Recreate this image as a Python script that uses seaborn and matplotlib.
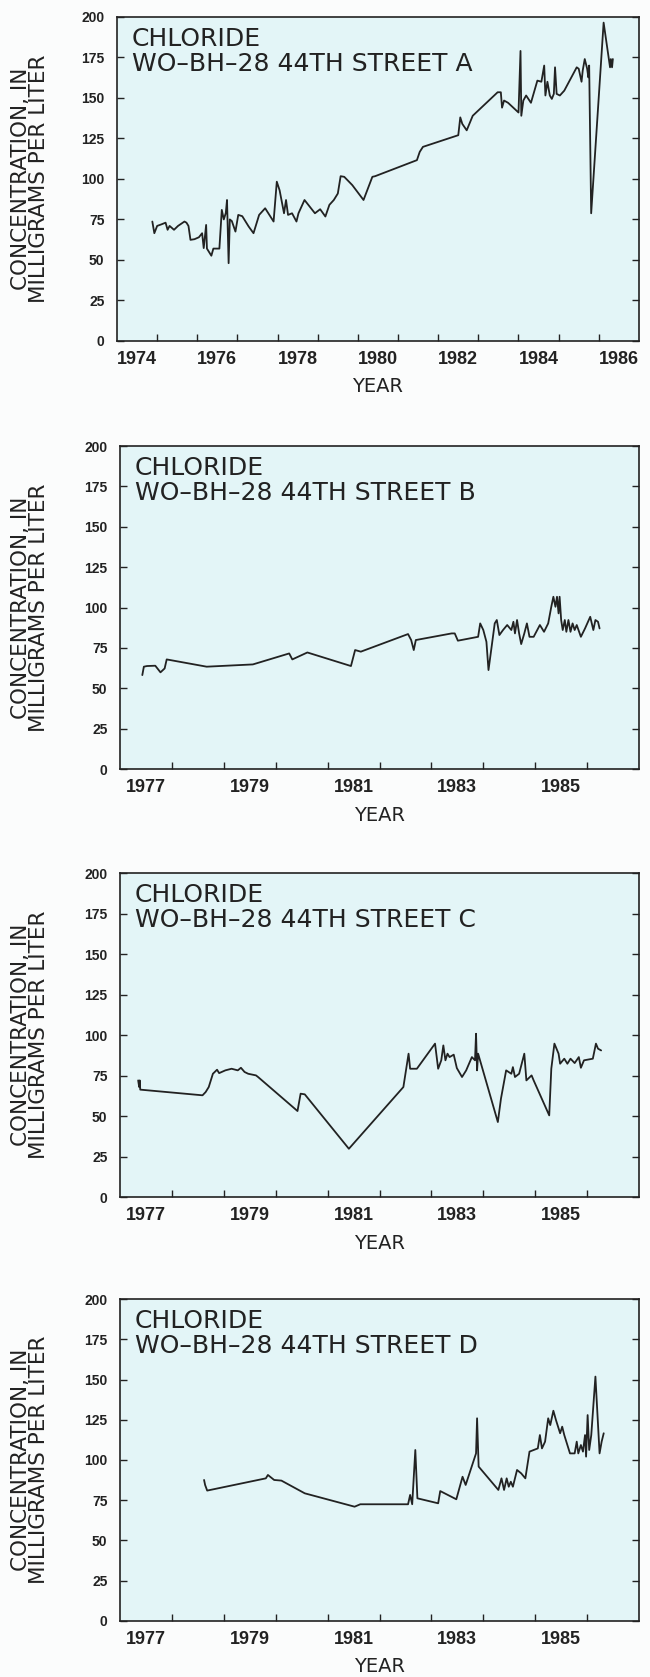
import numpy as np
import pandas as pd
import matplotlib
matplotlib.use("Agg")
import matplotlib.pyplot as plt
import seaborn as sns

sns.set_style("ticks")
plt.rcParams['font.family'] = ['DejaVu Sans']

a_year = [1974.88, 1974.93, 1975.00, 1975.11, 1975.21, 1975.26, 1975.31, 1975.42, 1975.52, 1975.68,
          1975.73, 1975.78, 1975.83, 1975.93, 1976.04, 1976.12, 1976.16, 1976.22, 1976.24, 1976.35,
          1976.40, 1976.55, 1976.61, 1976.66, 1976.71, 1976.74, 1976.78, 1976.81, 1976.86, 1976.95,
          1977.02, 1977.12, 1977.28, 1977.40, 1977.54, 1977.69, 1977.90, 1977.98, 1978.05, 1978.16,
          1978.21, 1978.26, 1978.36, 1978.47, 1978.52, 1978.67, 1978.93, 1979.06, 1979.19, 1979.29,
          1979.40, 1979.50, 1979.57, 1979.66, 1979.86, 1980.14, 1980.36, 1980.43, 1981.47, 1981.54,
          1981.62, 1982.50, 1982.55, 1982.60, 1982.71, 1982.86, 1983.48, 1983.56, 1983.59, 1983.64,
          1983.74, 1984.00, 1984.05, 1984.07, 1984.12, 1984.19, 1984.31, 1984.47, 1984.57, 1984.64,
          1984.67, 1984.72, 1984.78, 1984.83, 1984.88, 1984.91, 1984.95, 1985.03, 1985.14, 1985.45,
          1985.50, 1985.57, 1985.60, 1985.65, 1985.71, 1985.74, 1985.76, 1985.81, 1986.12, 1986.28,
          1986.30, 1986.33, 1986.35]
a_conc = [73.7, 66.5, 71, 72, 73, 68.6, 71, 68.6, 71, 73.7,
          73, 71, 62.4, 62.8, 64, 66.5, 57.3, 71.6, 57, 52.6,
          57, 57, 80.9, 75, 79, 87, 48, 75, 74, 67.5,
          77.8, 77, 70.6, 66.5, 77.8, 81.9, 73.7, 98.3, 93, 78.8,
          87, 77.8, 78.8, 73.7, 78.8, 87, 78.8, 81.3, 76.8, 84,
          87, 91, 101.7, 101.3, 96.2, 87, 101.3, 101.7, 111.6, 116.7,
          119.8, 127, 138, 134, 130, 139, 153.5, 153.5, 144, 148.4,
          147, 141, 179, 139, 148.4, 151.5, 147, 160.7, 160, 170,
          151.5, 160, 151.5, 149.4, 152.5, 168.9, 152.5, 151.5, 154.5, 168.9,
          168, 160, 167, 174, 168, 162.7, 170, 78.8, 196.5, 168.9,
          174, 168.9, 174]

b_year = [1977.43, 1977.46, 1977.52, 1977.68, 1977.78, 1977.86, 1977.90, 1978.67, 1979.56, 1980.26,
          1980.32, 1980.61, 1981.45, 1981.53, 1981.64, 1982.55, 1982.61, 1982.66, 1982.70, 1983.39,
          1983.45, 1983.51, 1983.90, 1983.94, 1984.00, 1984.06, 1984.10, 1984.16, 1984.22, 1984.26,
          1984.31, 1984.38, 1984.46, 1984.54, 1984.58, 1984.61, 1984.65, 1984.69, 1984.73, 1984.79,
          1984.84, 1984.89, 1984.97, 1985.09, 1985.17, 1985.25, 1985.31, 1985.35, 1985.39, 1985.42,
          1985.45, 1985.47, 1985.50, 1985.53, 1985.57, 1985.60, 1985.64, 1985.68, 1985.72, 1985.76,
          1985.80, 1985.88, 1985.96, 1986.06, 1986.12, 1986.16, 1986.21, 1986.24]
b_conc = [58.2, 63.4, 63.8, 64, 59.9, 62.3, 67.9, 63.4, 64.8, 71.6,
          67.9, 72.2, 63.8, 73.7, 72.7, 83.6, 79.9, 73.7, 79.9, 84,
          84, 79.5, 81.9, 90.2, 86.1, 78.8, 61.3, 75.7, 90.2, 92.3,
          83, 86.1, 89.2, 86.1, 91.2, 84, 92.3, 84, 77.4, 84,
          90.2, 81.9, 81.9, 89.2, 85, 90.2, 100.5, 106.7, 100.5, 106.7,
          96.4, 106.7, 92.3, 86.1, 92.3, 85, 92.3, 85, 90.2, 86.1,
          89.2, 81.9, 87.1, 94.3, 86.1, 92.3, 91.2, 87.1]

c_year = [1977.35, 1977.37, 1977.38, 1977.39, 1978.59, 1978.65, 1978.71, 1978.79, 1978.87, 1978.91,
          1979.03, 1979.15, 1979.27, 1979.33, 1979.40, 1979.47, 1979.62, 1979.66, 1980.42, 1980.48,
          1980.56, 1981.41, 1982.46, 1982.56, 1982.59, 1982.72, 1983.07, 1983.13, 1983.19, 1983.23,
          1983.27, 1983.31, 1983.35, 1983.43, 1983.49, 1983.59, 1983.67, 1983.78, 1983.84, 1983.86,
          1983.88, 1983.90, 1984.28, 1984.34, 1984.44, 1984.54, 1984.57, 1984.61, 1984.69, 1984.79,
          1984.83, 1984.93, 1984.97, 1985.27, 1985.31, 1985.37, 1985.45, 1985.48, 1985.56, 1985.62,
          1985.68, 1985.76, 1985.84, 1985.88, 1985.94, 1986.11, 1986.17, 1986.21, 1986.27]
c_conc = [72, 67.9, 72, 66.3, 62.8, 64.8, 67.9, 76.1, 78.6, 76.5,
          78.2, 79.2, 78.2, 79.8, 77.2, 76.1, 75.1, 74.1, 53.1, 63.8,
          63.4, 29.8, 67.9, 88.5, 79.2, 79.2, 94.7, 79.2, 84.4, 93.6,
          84.4, 88.5, 86.4, 87.9, 79.6, 74.1, 78.2, 86.4, 84.4, 100.8,
          78.2, 88.5, 46.3, 60.7, 78.2, 76.1, 80.2, 74.1, 76.1, 88.5,
          72, 75.1, 72, 50.4, 79.2, 94.7, 88.5, 82.3, 85.4, 82.3,
          85.4, 82.7, 86.4, 79.8, 84.4, 85.4, 94.7, 91.6, 90.5]

d_year = [1978.62, 1978.64, 1978.68, 1979.81, 1979.85, 1979.97, 1980.11, 1980.56, 1981.52, 1981.63,
          1982.55, 1982.59, 1982.63, 1982.69, 1982.73, 1983.13, 1983.17, 1983.48, 1983.60, 1983.66,
          1983.86, 1983.88, 1983.91, 1984.29, 1984.35, 1984.40, 1984.45, 1984.49, 1984.53, 1984.57,
          1984.65, 1984.73, 1984.81, 1984.89, 1984.97, 1985.05, 1985.09, 1985.13, 1985.19, 1985.25,
          1985.29, 1985.35, 1985.40, 1985.48, 1985.52, 1985.56, 1985.67, 1985.76, 1985.80, 1985.83,
          1985.88, 1985.92, 1985.96, 1985.98, 1986.01, 1986.04, 1986.08, 1986.16, 1986.24, 1986.28,
          1986.32]
d_conc = [87.6, 84.5, 81, 88.6, 90.7, 87.6, 87.2, 79.3, 71, 72.5,
          72.5, 78.3, 72.5, 106.2, 76.2, 73.1, 80.7, 75.6, 89.6, 84.5,
          104.1, 125.9, 95.9, 81.4, 88.6, 81.4, 88.6, 83.4, 86.5, 83.4,
          93.8, 91.7, 88.6, 105.2, 106.2, 107.2, 115.5, 107.2, 111.4, 125.9,
          121.7, 130.6, 124.8, 116.6, 120.7, 115.5, 104.1, 104.1, 111.4, 104.1,
          109.3, 105.2, 115.5, 102.1, 127.9, 106.2, 115.5, 151.8, 104.1, 111.4,
          116.6]

a_labels = ["1974", "1976", "1978", "1980", "1982", "1984", "1986"]
bcd_labels = ["1977", "1979", "1981", "1983", "1985"]

panels = [
    ("A", a_year, a_conc, 1974, 1987, a_labels),
    ("B", b_year, b_conc, 1977, 1987, bcd_labels),
    ("C", c_year, c_conc, 1977, 1987, bcd_labels),
    ("D", d_year, d_conc, 1977, 1987, bcd_labels),
]

# axes rectangles in figure fraction (left, bottom, width, height)
rects = [
    [0.180, 0.7967, 0.803, 0.1932],
    [0.1846, 0.5414, 0.7985, 0.1926],
    [0.1846, 0.2862, 0.7985, 0.1932],
    [0.1846, 0.0334, 0.7985, 0.1920],
]

ink = "#222222"
fig = plt.figure(figsize=(6.5, 16.77), dpi=100, facecolor="#fbfcfc")

for (name, yrs, conc, x0, x1, labels), rect in zip(panels, rects):
    ax = fig.add_axes(rect)
    ax.set_facecolor("#e3f5f7")
    df = pd.DataFrame({"Year": yrs, "Chloride": conc})
    sns.lineplot(data=df, x="Year", y="Chloride", ax=ax, color=ink,
                 linewidth=1.3, estimator=None, sort=False)
    ax.set_xlim(x0, x1)
    ax.set_ylim(0, 200)

    # ticks at year boundaries, labels centred in the year
    ax.set_xticks(np.arange(x0 + 1, x1))
    ax.set_xticklabels([])
    ax.set_xticks([int(l) + 0.5 for l in labels], minor=True)
    ax.set_xticklabels(labels, minor=True)
    ax.tick_params(axis="x", which="major", direction="in", length=5, width=1,
                   color=ink, top=False, labelbottom=False)
    ax.tick_params(axis="x", which="minor", length=0, pad=7, labelsize=13,
                   labelcolor=ink)
    ax.set_yticks(np.arange(0, 201, 25))
    ax.tick_params(axis="y", direction="in", length=5, width=1, color=ink,
                   left=True, right=True, pad=9, labelsize=10, labelcolor=ink)
    for lbl in ax.get_xticklabels(minor=True) + ax.get_yticklabels():
        lbl.set_fontfamily("Liberation Sans")
        lbl.set_fontweight("bold")

    for sp in ax.spines.values():
        sp.set_visible(True)
        sp.set_color(ink)
        sp.set_linewidth(1.2)

    h_px = rect[3] * 1677
    w_px = rect[2] * 650
    left_px = rect[0] * 650
    ax.set_xlabel("YEAR", fontsize=14, color=ink, va="center")
    ax.xaxis.set_label_coords(0.5, -46 / h_px)
    ax.set_ylabel("CONCENTRATION, IN\nMILLIGRAMS PER LITER", fontsize=15.5,
                  color=ink, va="center", linespacing=0.9)
    ax.yaxis.set_label_coords((30 - left_px) / w_px, 0.5)

    ax.text(15 / w_px, 1 - 10 / h_px, "CHLORIDE\nWO\u2013BH\u201328 44TH STREET " + name,
            transform=ax.transAxes, ha="left", va="top", fontsize=18,
            color=ink, linespacing=1.05)

fig.savefig("out.png", dpi=100, facecolor=fig.get_facecolor())
